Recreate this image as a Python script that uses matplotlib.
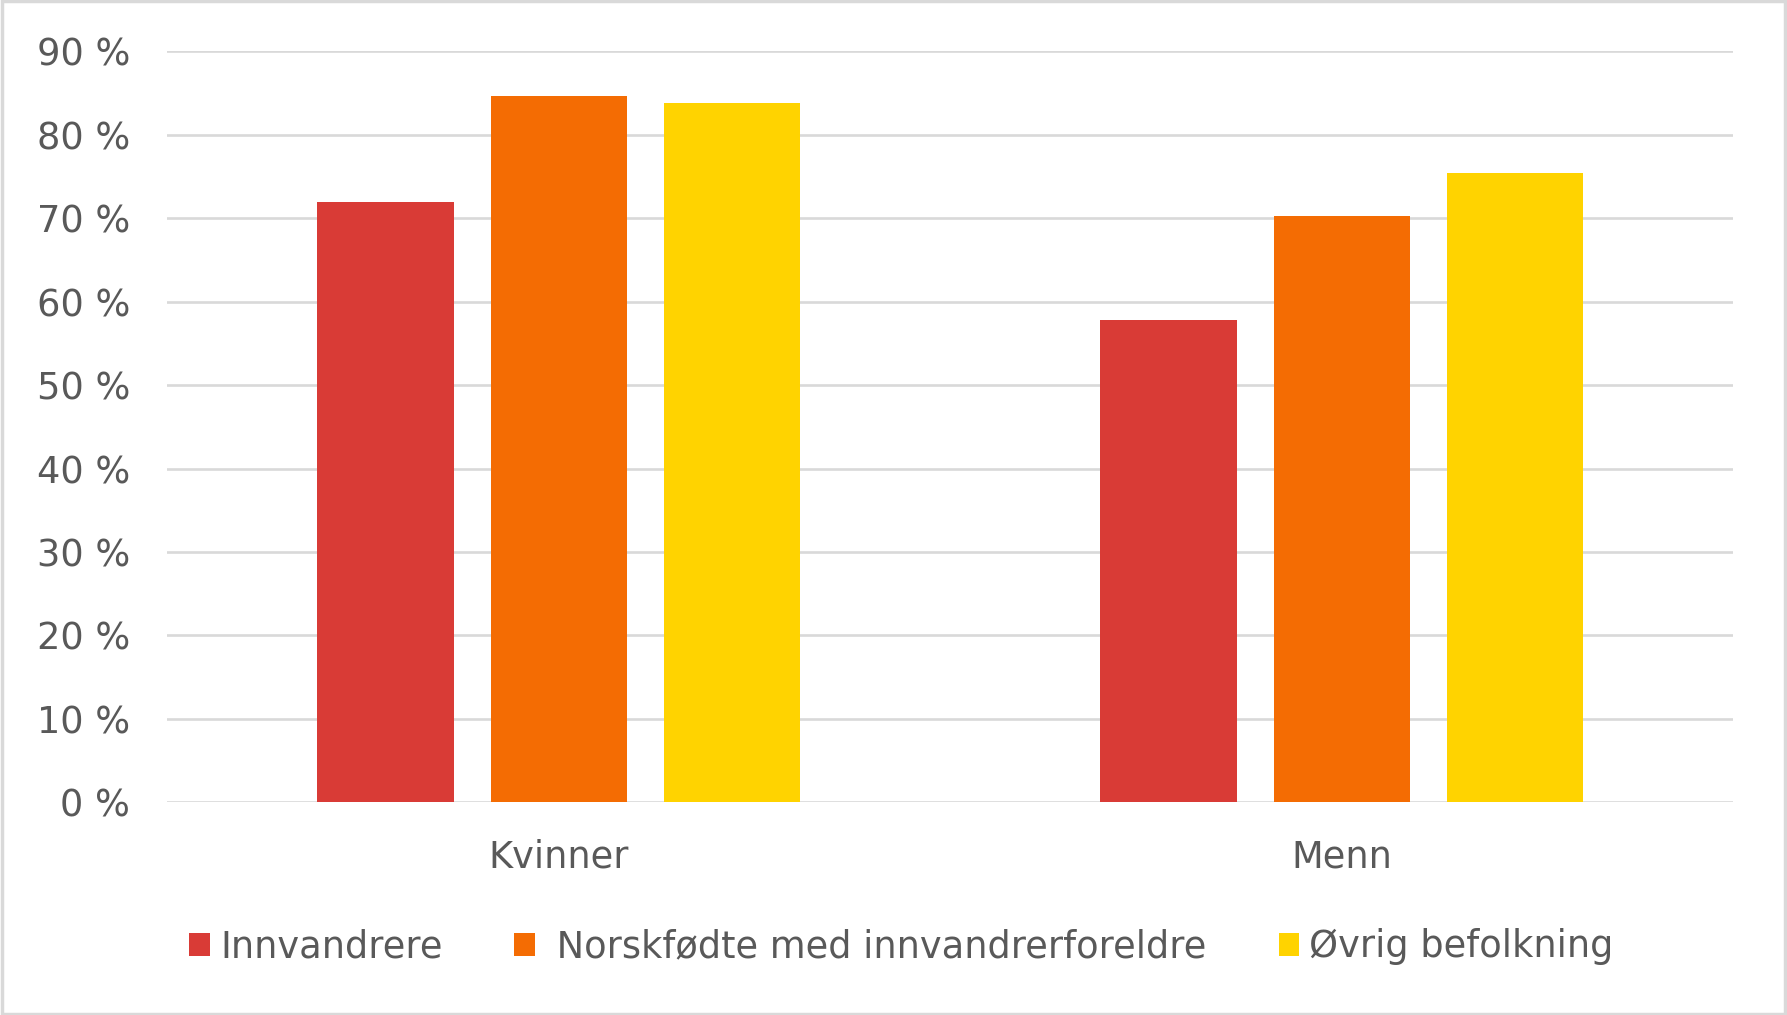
import numpy as np
import matplotlib
matplotlib.use("Agg")
import matplotlib.pyplot as plt
from matplotlib.patches import Rectangle

categories = ["Kvinner", "Menn"]
series = ["Innvandrere", " Norskfødte med innvandrerforeldre", "Øvrig befolkning"]
innvandrere = [71.9, 57.8]
norskfodte = [84.6, 70.2]
ovrig = [83.8, 75.4]
yticks = [0, 10, 20, 30, 40, 50, 60, 70, 80, 90]

colors = ["#D93B36", "#F46C03", "#FFD300"]
text_color = "#595959"
grid_color = "#D9D9D9"

plt.rcParams["font.family"] = ["DejaVu Sans"]

fig = plt.figure(figsize=(17.87, 10.15), dpi=100)
ax = fig.add_axes([0.0937, 0.2095, 0.8763, 0.74])

x = np.arange(len(categories))
width = 0.1747
step = 0.221
for i, (vals, name) in enumerate(zip([innvandrere, norskfodte, ovrig], series)):
    ax.bar(x + (i - 1) * step, vals, width, color=colors[i], label=name, zorder=3)

ax.set_xlim(-0.5, 1.5)
ax.set_ylim(0, 90)
ax.set_yticks(yticks)
ax.set_yticklabels([f"{t} %" for t in yticks])
ax.set_xticks(x)
ax.set_xticklabels(categories)
ax.yaxis.grid(True, color=grid_color, linewidth=1.9, zorder=0)
ax.tick_params(axis="both", length=0, labelsize=26.5, colors=text_color)
ax.tick_params(axis="y", pad=27)
ax.tick_params(axis="x", pad=26)
for s in ax.spines.values():
    s.set_visible(False)

leg = fig.legend(loc="center", bbox_to_anchor=(0.5045, 0.067), ncol=3, frameon=False,
                 fontsize=26.5, handlelength=0.56, handleheight=0.62, handletextpad=0.28,
                 columnspacing=1.95)
for t in leg.get_texts():
    t.set_color(text_color)

fig.patches.append(Rectangle((0.001, 0.001), 0.998, 0.998, transform=fig.transFigure,
                             fill=False, edgecolor=grid_color, linewidth=2.5))

fig.savefig("out.png", dpi=100)
